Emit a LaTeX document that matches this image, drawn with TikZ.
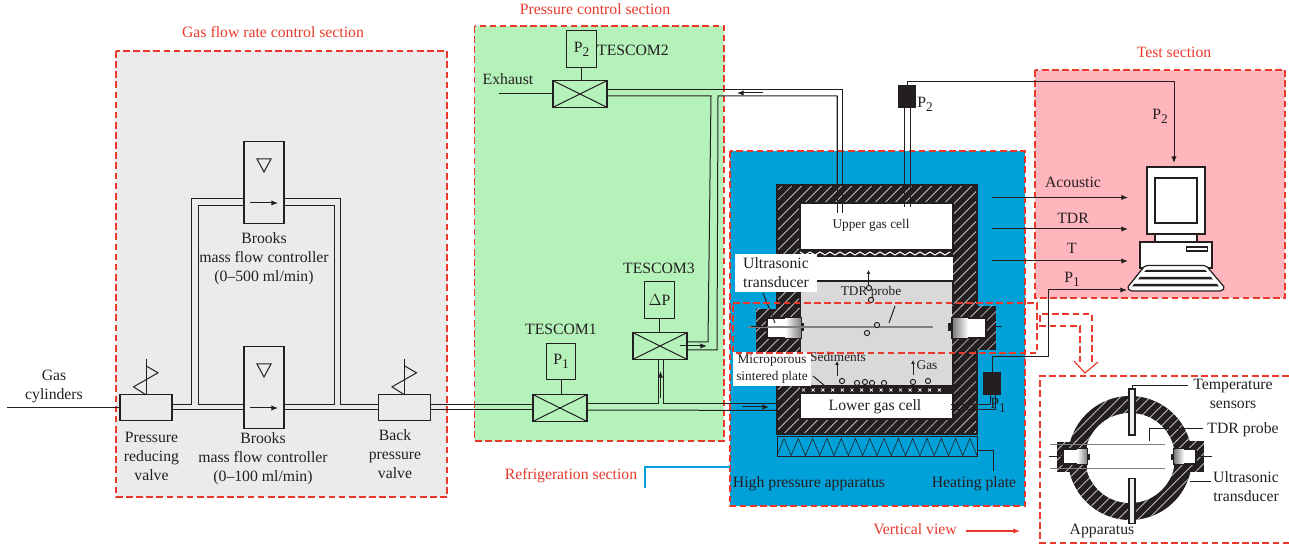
\documentclass[tikz,border=0pt]{standalone}
\usepackage{fontspec}
\setmainfont{Liberation Serif}
\usetikzlibrary{arrows.meta,calc,patterns.meta}
\definecolor{Ink}{HTML}{231F20}
\definecolor{Alarm}{HTML}{E8392B}
\definecolor{PanelGray}{HTML}{EBEBEB}
\definecolor{PanelGreen}{HTML}{B5F2BA}
\definecolor{PanelBlue}{HTML}{00A0D8}
\definecolor{PanelPink}{HTML}{FFB6BC}
\definecolor{Sediment}{HTML}{D9D9D9}
\tikzset{
  labtext/.style={text=Ink, align=center, inner sep=0pt, font=\fontsize{11.8}{14.3}\selectfont},
  smalltext/.style={labtext, font=\fontsize{10}{12.5}\selectfont},
  redtext/.style={labtext, text=Alarm},
  panel/.style={draw=Alarm, line width=0.9pt, dash pattern=on 5pt off 2.6pt},
  pipe/.style={draw=Ink, line width=0.75pt},
  flow/.style={draw=Ink, line width=0.75pt, -{Latex[length=5pt,width=4pt]}},
  box/.style={draw=Ink, line width=0.9pt, inner sep=0pt, outer sep=0pt},
  valvebody/.style={box, minimum width=40.5pt, minimum height=20pt},
  sensorbox/.style={box, text=Ink, font=\fontsize{11.8}{14.3}\selectfont, minimum width=22pt, minimum height=27.5pt},
  mfcbody/.style={box, minimum width=30pt, minimum height=62pt},
  plainvalve/.style={box, fill=PanelGray, minimum width=39pt, minimum height=19pt},
  hatched/.style={preaction={fill=Ink}, pattern={Lines[angle=45,distance=5.3pt,line width=0.5pt]}, pattern color=white!85!black},
  whitelabel/.style={labtext, fill=white}
}
\newcommand{\psub}[2]{#1\raisebox{-3.2pt}{\fontsize{10}{10}\selectfont #2}}
\newcommand{\crossvalve}[3]{
  \node[valvebody] (#1) at (#2,#3) {};
  \draw[pipe] (#1.north west) -- (#1.south east) (#1.north east) -- (#1.south west);
}
\newcommand{\spring}[1]{
  \draw[pipe] (#1.north) -- ++(0,-36);
  \draw[pipe] ($(#1.north)+(0,-29)$) -- ++(12,7) -- ++(-24.5,14) -- ++(12.5,8);
}
\newcommand{\mfcunit}[3]{
  \node[mfcbody, fill=PanelGray] (#1) at (#2,#3) {};
  \draw[pipe] ($(#1.center)+(-7,-23.5)$) -- ++(14,0) -- ++(-7,13) -- cycle;
  \draw[flow] ($(#1.center)+(-14,20.5)$) -- ++(28,0);
}
\newcommand{\bubble}[2]{
  \draw[pipe, fill=Sediment] (#1,#2) circle (2.6);
}
\newcommand{\transducer}[6]{
  \path[hatched] (#1,#2) rectangle (#3,#4);
  \draw[box, fill=white] (#5,318) rectangle ++(#6,20);
}
\begin{document}
\begin{tikzpicture}[x=0.75pt,y=-0.75pt]
  \useasboundingbox (0,0) rectangle (1289,548);
  \draw[panel, fill=PanelGray] (116,51) rectangle (447,497);
  \draw[panel, fill=PanelGreen] (474.5,26) rectangle (724,441);
  \draw[panel, fill=PanelBlue] (730,151) rectangle (1025,506);
  \draw[panel, fill=PanelPink] (1035,70) rectangle (1285,298);
  \draw[panel] (1289,376) -- (1040,376) -- (1040,543) -- (1289,543);

  \node[redtext] (gastitle) at (273,32) {Gas flow rate control section};
  \node[redtext] (pressuretitle) at (595,9) {Pressure control section};
  \node[redtext] (fridgetitle) at (571,475.5) {Refrigeration section};
  \node[redtext] (testtitle) at (1174,52) {Test section};
  \node[redtext] (viewtitle) at (915,529) {Vertical view};
  \coordinate (viewend) at (1020,531);
  \coordinate (fridgefoot) at (645,488);
  \draw[PanelBlue, line width=0.8pt] (fridgefoot) -- (645,467) -- (730,467);
  \draw[Alarm, line width=0.9pt, -{Latex[length=5pt,width=4pt]}] (966,531) -- (viewend);

  \coordinate (busU) at (0,405);
  \coordinate (busL) at (0,410);
  \coordinate (gasin) at (7,407.5);
  \node[plainvalve] (reducer) at (146,407.5) {};
  \node[plainvalve] (backvalve) at (404.5,407.5) {};
  \mfcunit{mfcupper}{264}{182.5}
  \mfcunit{mfclower}{264}{387.5}
  \spring{reducer}
  \spring{backvalve}
  \draw[pipe] (gasin) -- (reducer.west);
  \draw[pipe] (reducer.east |- busL) -- (mfclower.west |- busL);
  \draw[pipe] (mfclower.east |- busL) -- (backvalve.west |- busL);
  \draw[pipe] (reducer.east |- busU) -- (191,405) -- (191,199) -- (mfcupper.west |- 0,199);
  \draw[pipe] (mfclower.west |- busU) -- (198.5,405) -- (198.5,206) -- (mfcupper.west |- 0,206);
  \draw[pipe] (mfcupper.east |- 0,199) -- (340.5,199) -- (340.5,405) -- (backvalve.west |- busU);
  \draw[pipe] (mfcupper.east |- 0,206) -- (334,206) -- (334,405) -- (mfclower.east |- busU);

  \node[labtext] (gaslabel) at (54,386.5) {Gas\\cylinders};
  \node[labtext] (reducerlabel) at (151.5,456) {Pressure\\reducing\\valve};
  \node[labtext] (mfcupperlabel) at (264,259) {Brooks\\mass flow controller\\(0--500 ml/min)};
  \node[labtext] (mfclowerlabel) at (263,458.5) {Brooks\\mass flow controller\\(0--100 ml/min)};
  \node[labtext] (backlabel) at (395,454) {Back\\pressure\\valve};

  \crossvalve{tescomone}{560}{408}
  \crossvalve{tescomtwo}{580}{94}
  \crossvalve{tescomthree}{660}{346}
  \node[sensorbox] (pone) at (561,361.5) {\psub{P}{1}};
  \node[sensorbox] (ptwo) at (581.5,49) {\psub{P}{2}};
  \node[sensorbox] (dp) at (659.5,300) {$\Delta$P};
  \draw[pipe] (pone.south) -- (pone.south |- tescomone.north);
  \draw[pipe] (ptwo.south) -- (ptwo.south |- tescomtwo.north);
  \draw[pipe] (dp.south) -- (dp.south |- tescomthree.north);
  \node[labtext] (tescomonelabel) at (561,329) {TESCOM1};
  \node[labtext] (tescomtwolabel) at (633,50) {TESCOM2};
  \node[labtext] (tescomthreelabel) at (659,268) {TESCOM3};
  \node[labtext] (exhaustlabel) at (508,79) {Exhaust};
  \coordinate (exhaustend) at (499,94);
  \draw[pipe] (exhaustend) -- (tescomtwo.west);

  \draw[pipe] (backvalve.east |- busU) -- (tescomone.west |- busU);
  \draw[pipe] (backvalve.east |- busL) -- (tescomone.west |- busL);
  \draw[pipe] (tescomone.east |- 0,404) -- (658,404) -- (658 ,359);
  \draw[pipe] (tescomone.east |- busL) -- (809,410.5);
  \draw[pipe] (663,359) -- (663,404) -- (809,404);
  \draw[pipe] (tescomtwo.east |- 0,90) -- (842,90) -- (842,207);
  \draw[pipe] (tescomtwo.east |- 0,96) -- (711,96) -- (708,342) -- (tescomthree.east |- 0,342);
  \draw[pipe] (837,207) -- (837,96) -- (718,96) -- (717,350) -- (tescomthree.east |- 0,350);
  \draw[flow] (680,346) -- (707,346);
  \draw[flow] (763,93) -- (737,93);
  \draw[flow] (660.5,398) -- (660.5,371);
  \draw[flow] (742,407) -- (769,407);

  \path[hatched] (777,185) rectangle (977,434);
  \draw[Ink, line width=0.8pt] (777,185) rectangle (977,434);
  \draw[Ink, line width=0.8pt, fill=white] (800,203) rectangle (953,250);
  \fill[Ink] (800,250) rectangle (953,257);
  \draw[white, line width=0.8pt] (800,252) \foreach \i in {0,...,30} { -- ({800+\i*5},{252+mod(\i,2)*3}) };
  \fill[white] (800,257) rectangle (953,281);
  \draw[Ink, line width=0.8pt, fill=Sediment] (800,281) rectangle (953,386);
  \fill[Ink] (800,386) rectangle (953,393);
  \foreach \i in {0,...,14} {
    \draw[white, line width=0.5pt] ({802+\i*9.7},388.5) -- ++(3,3) ({805+\i*9.7},388.5) -- ++(-3,3);
  }
  \draw[Ink, line width=0.8pt, fill=white] (800,393) rectangle (953,419);
  \draw[pipe, fill=PanelBlue] (777,437) rectangle (977,457);
  \draw[Ink, line width=0.45pt] (777,455.5) \foreach \i in {0,...,27} { -- ({784+\i*7.15},{438.5+mod(\i,2)*17}) };
  \coordinate (heatfoot) at (993,471);
  \draw[pipe] (977,451) -- (993,451) -- (heatfoot);

  \draw[pipe] (837,96) -- (837,213);
  \draw[pipe] (842,90) -- (842,213);
  \draw[pipe] (904,107) -- (904,207);
  \draw[pipe] (910,107) -- (910,207);

  \node[smalltext] (uppercell) at (871,225) {Upper gas cell};
  \node[labtext] (lowercell) at (875,407) {Lower gas cell};

  \transducer{756}{309}{800}{352}{767}{34}
  \transducer{952}{306}{996}{350}{952}{34}
  \shade[left color=white, right color=gray] (785,318.5) rectangle (801,337.5);
  \shade[left color=gray, right color=white] (953,318.5) rectangle (968,337.5);
  \fill[Ink] (801,323) rectangle (804,331);
  \fill[Ink] (948,323) rectangle (952,331);
  \draw[gray, line width=0.8pt] (748,327) -- (933,327);
  \draw[pipe] (751,327) -- (767,327);
  \draw[pipe] (996,327) -- (1002,327);

  \bubble{869}{288} \bubble{871}{300} \bubble{877}{325} \bubble{867}{333}
  \bubble{842}{381} \bubble{857}{383} \bubble{865}{382} \bubble{872}{383}
  \bubble{884}{383} \bubble{913}{382} \bubble{928}{381}
  \draw[flow, -{Latex[length=3pt,width=3pt]}] (868.5,285) -- (868.5,270);
  \draw[flow, -{Latex[length=3pt,width=3pt]}] (837,376) -- (837,361);
  \draw[flow, -{Latex[length=3pt,width=3pt]}] (913,375) -- (913,360);
  \node[smalltext] (tdrprobe) at (871,292) {TDR probe};
  \node[smalltext] (sediments) at (838,357) {Sediments};
  \node[smalltext] (gaslab) at (927,365) {Gas};
  \draw[pipe] (895,306) -- (889,323);

  \node[whitelabel, minimum width=61pt, minimum height=28pt] (ultralabel) at (776,273) {Ultrasonic\\transducer};
  \node[smalltext, fill=white, minimum width=58.5pt, minimum height=25pt] (sinterlabel) at (772,369) {Microporous\\sintered plate};
  \draw[pipe] (763,293) -- (775,323);
  \draw[pipe] (813,376) -- (825,386);

  \node[box, fill=Ink, minimum width=12pt, minimum height=16pt] (ptwotop) at (907,96.5) {};
  \node[box, fill=Ink, minimum width=12pt, minimum height=16pt] (ponetop) at (992,383.5) {};
  \draw[pipe] (ponetop.south -| 990,0) -- (990,405) -- (951,405);
  \draw[pipe] (ponetop.south -| 995,0) -- (995,410) -- (951,410);
  \node[labtext] (ptwolabel) at (925,104) {\psub{P}{2}};
  \node[labtext] (ponelabel) at (998,405) {\psub{P}{1}};
  \node[labtext] (labhigh) at (809,484) {High pressure apparatus};
  \node[labtext] (labheat) at (974,484) {Heating plate};

  \draw[panel] (733,303) -- (1037,303) -- (1037,353) -- (733,353) -- cycle;
  \draw[panel] (1092,362) -- (1092,314) -- (1040,314) -- (1040,326) -- (1080,326) -- (1080,362);
  \draw[Alarm, line width=0.9pt] (1074,361) -- (1085,373) -- (1098,362);

  \draw[box, fill=white] (1147,167) rectangle (1205,234);
  \draw[box, fill=white] (1155,178) rectangle (1197,223);
  \draw[box, fill=white] (1155,234) rectangle (1197,242);
  \draw[box, fill=white] (1140,242) rectangle (1212,268);
  \draw[box, fill=white] (1186.5,247) rectangle (1207.5,251);
  \draw[box, fill=white, rounded corners=1.5pt] (1145,265.5) -- (1206,265.5) -- (1225,288) -- (1222,291) -- (1130,291) -- (1127,288) -- cycle;
  \fill[Ink] (1146,270) -- (1205,270) -- (1207,272) -- (1144,272) -- cycle;
  \fill[Ink] (1140,277) -- (1211,277) -- (1213,279.5) -- (1138,279.5) -- cycle;
  \fill[Ink] (1134,284) -- (1217,284) -- (1219,286.5) -- (1132,286.5) -- cycle;

  \coordinate (pcacoustic) at (1128,197.5);
  \coordinate (pctdr) at (1128,229);
  \coordinate (pctemp) at (1128,261);
  \coordinate (pcpone) at (1127,290);
  \coordinate (pcptwo) at (1174,163);
  \draw[flow] (992,197.5) -- (pcacoustic);
  \draw[flow] (992,229) -- (pctdr);
  \draw[flow] (992,261) -- (pctemp);
  \draw[flow] (ptwotop.north) -- (907,82) -- (1174,82) -- (pcptwo);
  \draw[flow] (ponetop.north) -- (992,357) -- (1048,357) -- (1048,290) -- (pcpone);
  \node[labtext] (acousticlabel) at (1073,182) {Acoustic};
  \node[labtext] (tdrlabel) at (1073,218) {TDR};
  \node[labtext] (templabel) at (1072,248) {T};
  \node[labtext] (ponetest) at (1072,279) {\psub{P}{1}};
  \node[labtext] (ptwotest) at (1160,116) {\psub{P}{2}};

  \path[hatched] (1130,458) circle (62);
  \fill[white] (1130,458) circle (45);
  \path[hatched] (1057,442) rectangle (1087,472);
  \path[hatched] (1174,441) rectangle (1204,472);
  \draw[box, fill=white] (1063,449) rectangle (1087,464);
  \draw[box, fill=white] (1174,449) rectangle (1196,464);
  \shade[left color=white, right color=gray] (1077,449.5) rectangle (1087,463.5);
  \shade[left color=gray, right color=white] (1174.5,449.5) rectangle (1184,463.5);
  \fill[Ink] (1087,454) rectangle (1090,460);
  \fill[Ink] (1171,454) rectangle (1174,460);
  \draw[gray, line width=0.7pt] (1050,444) -- (1165,444) (1050,468) -- (1165,468);
  \draw[pipe] (1049,457) -- (1063,457) (1196,457) -- (1212,457);
  \node[box, fill=Sediment!40, minimum width=4.5pt, minimum height=34.5pt] (sensortop) at (1132,412) {};
  \node[box, fill=Sediment!40, minimum width=4.5pt, minimum height=33.5pt] (sensorbot) at (1132,501) {};
  \node[labtext] (templab) at (1233,394) {Temperature\\sensors};
  \node[labtext] (tdrview) at (1243,430) {TDR probe};
  \node[labtext] (ultraview) at (1246,486.5) {Ultrasonic\\transducer};
  \node[labtext] (apparatuslab) at (1102,531) {Apparatus};
  \draw[pipe] (sensortop.north) -- (1132,386) -- (1188,386);
  \draw[pipe] (1149,441) -- (1149,429) -- (1203,429);
  \draw[pipe] (1190,482) -- (1211,482);
\end{tikzpicture}
\end{document}
